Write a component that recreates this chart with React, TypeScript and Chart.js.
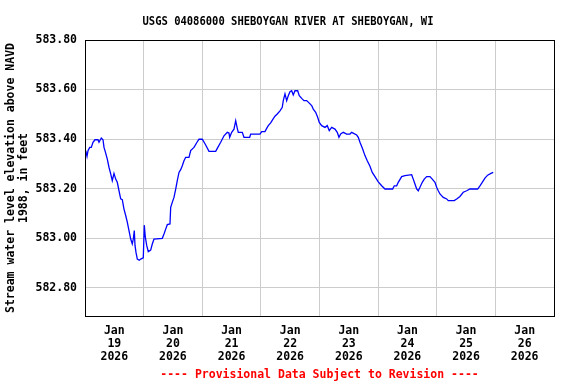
import React, { useEffect, useRef } from 'react';
import { Chart, registerables } from 'chart.js';

Chart.register(...registerables);

const TITLE = 'USGS 04086000 SHEBOYGAN RIVER AT SHEBOYGAN, WI';
const FOOTER = '---- Provisional Data Subject to Revision ----';
const Y_TITLE = ['Stream water level elevation above NAVD', '1988, in feet'];
const MONTH_LABEL = 'Jan';
const YEAR_LABEL = '2026';
const DAY_LABELS = ['19', '20', '21', '22', '23', '24', '25', '26'];
const Y_TICKS = [582.8, 583.0, 583.2, 583.4, 583.6, 583.8];

// hours since Jan 19 2026 00:00
const HOURS = [
  0.29, 0.82, 1.23, 1.92, 2.58, 3.27, 4.09, 5.32, 5.73, 6.67, 7.37, 7.78, 8.47, 9.13, 9.82,
  10.52, 11.17, 11.87, 12.57, 13.22, 13.92, 14.61, 15.27, 15.96, 16.66, 17.31, 18.01, 18.71,
  19.36, 19.77, 20.18, 20.47, 20.88, 21.41, 22.23, 22.8, 23.86, 24.27, 24.68, 25.26, 25.91,
  26.89, 27.55, 28.24, 31.64, 32.34, 33.03, 33.69, 34.79, 35.08, 35.73, 36.43, 37.13, 37.78,
  38.48, 39.17, 39.83, 40.52, 41.22, 42.57, 43.27, 44.62, 45.97, 46.66, 48.01, 49.41, 50.76,
  53.5, 54.16, 55.55, 56.9, 58.25, 58.94, 59.23, 60.05, 60.99, 61.69, 62.34, 62.75, 64.39,
  65.08, 67.42, 67.83, 69.18, 71.63, 72.33, 73.68, 74.37, 75.03, 76.01, 76.83, 77.77, 78.71,
  79.82, 80.76, 81.17, 81.87, 82.56, 83.22, 83.91, 84.61, 85.26, 85.96, 87.06, 87.72, 88.7,
  89.64, 90.75, 91.81, 92.8, 93.45, 94.43, 95.25, 95.91, 96.89, 98.24, 99.18, 100.0, 100.98,
  102.33, 103.27, 103.97, 104.67, 105.73, 107.12, 108.47, 109.17, 111.22, 111.87, 112.57,
  113.67, 114.61, 115.55, 116.66, 117.6, 118.71, 120.06, 121.45, 122.8, 125.95, 126.61,
  127.59, 128.24, 129.64, 130.99, 133.73, 134.38, 135.08, 135.77, 136.43, 137.13, 138.07,
  138.89, 139.87, 141.22, 142.16, 143.27, 143.96, 144.62, 145.31, 146.66, 148.06, 148.71,
  151.17, 152.16, 153.5, 154.85, 156.24, 157.59, 160.74, 161.69, 162.63, 163.73, 164.84,
  166.19, 167.13,
];

const LEVELS = [
  583.353, 583.33, 583.353, 583.366, 583.366, 583.387, 583.397, 583.397, 583.387, 583.404,
  583.397, 583.366, 583.343, 583.319, 583.286, 583.259, 583.232, 583.261, 583.238, 583.225,
  583.191, 583.158, 583.155, 583.117, 583.091, 583.064, 583.03, 582.996, 582.976, 582.996,
  583.03, 582.97, 582.942, 582.915, 582.91, 582.915, 582.92, 583.052, 583.005, 582.97,
  582.945, 582.951, 582.976, 582.996, 582.999, 583.016, 583.036, 583.054, 583.057, 583.124,
  583.144, 583.164, 583.198, 583.232, 583.265, 583.276, 583.292, 583.312, 583.326, 583.326,
  583.353, 583.366, 583.389, 583.399, 583.399, 583.376, 583.35, 583.35, 583.362, 583.387,
  583.413, 583.427, 583.424, 583.407, 583.427, 583.44, 583.474, 583.443, 583.427, 583.427,
  583.407, 583.407, 583.42, 583.42, 583.42, 583.43, 583.43, 583.443, 583.454, 583.465,
  583.478, 583.492, 583.501, 583.514, 583.528, 583.555, 583.582, 583.555, 583.575, 583.591,
  583.595, 583.578, 583.595, 583.595, 583.575, 583.564, 583.555, 583.555, 583.545, 583.535,
  583.521, 583.508, 583.488, 583.467, 583.454, 583.447, 583.454, 583.434, 583.447, 583.44,
  583.427, 583.407, 583.42, 583.427, 583.42, 583.42, 583.427, 583.416, 583.407, 583.387,
  583.36, 583.333, 583.312, 583.29, 583.265, 583.248, 583.227, 583.211, 583.198, 583.198,
  583.211, 583.211, 583.225, 583.248, 583.252, 583.256, 583.238, 583.218, 583.198, 583.191,
  583.205, 583.225, 583.238, 583.248, 583.248, 583.238, 583.225, 583.205, 583.191, 583.178,
  583.164, 583.158, 583.151, 583.151, 583.158, 583.168, 583.185, 583.191, 583.198, 583.198,
  583.211, 583.225, 583.242, 583.254, 583.261, 583.265,
];

const FONT_FAMILY = '"DejaVu Sans Mono", monospace';

const decorPlugin = {
  id: 'decor',
  afterDraw(chart: any) {
    const { ctx, chartArea: a } = chart;
    ctx.save();
    ctx.strokeStyle = '#000000';
    ctx.lineWidth = 1;
    ctx.strokeRect(a.left + 0.5, a.top + 0.5, a.right - a.left, a.bottom - a.top);
    ctx.fillStyle = '#000000';
    ctx.font = `bold 12px ${FONT_FAMILY}`;
    ctx.textAlign = 'center';
    ctx.textBaseline = 'alphabetic';
    ctx.fillText(TITLE, chart.width / 2, 25, 291);
    ctx.fillStyle = '#ff0000';
    ctx.font = `bold 11.5px ${FONT_FAMILY}`;
    ctx.fillText(FOOTER, (a.left + a.right) / 2, 378, 322);
    ctx.restore();
  },
};

export default function App() {
  const ref = useRef<HTMLCanvasElement | null>(null);

  useEffect(() => {
    if (!ref.current) return;
    const chart = new Chart(ref.current, {
      type: 'line',
      data: {
        datasets: [
          {
            data: HOURS.map((h, i) => ({ x: h, y: LEVELS[i] })),
            borderColor: '#0000ff',
            borderWidth: 1.3,
            pointRadius: 0,
            tension: 0,
            fill: false,
          },
        ],
      },
      options: {
        animation: false,
        responsive: false,
        layout: { padding: { top: 40, right: 22, left: 0, bottom: 0 } },
        plugins: { legend: { display: false }, tooltip: { enabled: false }, title: { display: false } },
        scales: {
          x: {
            type: 'linear',
            min: 0,
            max: 192,
            border: { display: false },
            afterBuildTicks: (scale: any) => {
              const t = [];
              for (let v = 0; v <= 192; v += 12) t.push({ value: v });
              scale.ticks = t;
            },
            afterFit: (scale: any) => {
              scale.height = 68;
            },
            grid: {
              drawTicks: false,
              color: (c: any) => (c.tick && c.tick.value % 24 === 0 ? '#cccccc' : 'rgba(0,0,0,0)'),
              lineWidth: 1,
            },
            ticks: {
              autoSkip: false,
              maxRotation: 0,
              minRotation: 0,
              padding: 9,
              color: '#000000',
              font: { family: FONT_FAMILY, size: 11.5, weight: 'bold', lineHeight: '13px' } as any,
              callback: (value: any) => {
                const v = Number(value);
                if (v % 24 === 12) {
                  return [MONTH_LABEL, DAY_LABELS[Math.floor(v / 24)], YEAR_LABEL];
                }
                return '';
              },
            },
          },
          y: {
            type: 'linear',
            min: 582.685,
            max: 583.8,
            border: { display: false },
            afterBuildTicks: (scale: any) => {
              scale.ticks = Y_TICKS.map((v) => ({ value: v }));
            },
            afterFit: (scale: any) => {
              scale.width = 85;
            },
            grid: { drawTicks: false, color: '#cccccc', lineWidth: 1 },
            ticks: {
              padding: 8,
              color: '#000000',
              font: { family: FONT_FAMILY, size: 11.5, weight: 'bold' },
              callback: (value: any) => Number(value).toFixed(2),
            },
            title: {
              display: true,
              text: Y_TITLE,
              color: '#000000',
              padding: { top: 5, bottom: 0 },
              font: { family: FONT_FAMILY, size: 11.5, weight: 'bold', lineHeight: '13px' } as any,
            },
          },
        },
      },
      plugins: [decorPlugin],
    });
    return () => chart.destroy();
  }, []);

  return (
    <div style={{ position: 'fixed', left: 0, top: 0, width: 576, height: 384, background: '#ffffff' }}>
      <canvas ref={ref} width={576} height={384} style={{ display: 'block', width: 576, height: 384 }} />
    </div>
  );
}
